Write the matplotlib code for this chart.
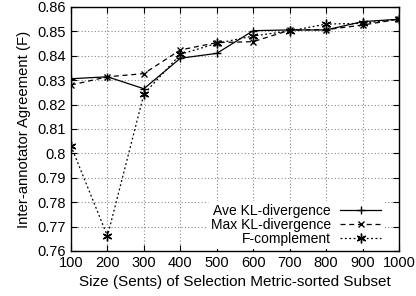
import matplotlib
matplotlib.use("Agg")
import matplotlib.pyplot as plt

plt.rcParams['font.family'] = ['Liberation Sans', 'DejaVu Sans']
plt.rcParams['font.size'] = 10

sizes = [100, 200, 300, 400, 500, 600, 700, 800, 900, 1000]
ave_kl = [0.8306, 0.8314, 0.8265, 0.8390, 0.8410, 0.8503, 0.8506, 0.8506, 0.8540, 0.8550]
max_kl = [0.8280, 0.8314, 0.8327, 0.8424, 0.8454, 0.8458, 0.8505, 0.8507, 0.8526, 0.8550]
f_comp = [0.8030, 0.7661, 0.8243, 0.8406, 0.8451, 0.8481, 0.8502, 0.8530, 0.8533, 0.8550]

fig = plt.figure(figsize=(4.16, 2.96), dpi=100)
ax = fig.add_axes([71 / 416, 1 - 251 / 296, 328 / 416, 244 / 296])

ax.plot(sizes, ave_kl, color='black', linestyle='-', linewidth=0.9,
        marker='+', markersize=6, label='Ave KL-divergence')
ax.plot(sizes, max_kl, color='black', linestyle=(0, (4, 3)), linewidth=0.9,
        marker='x', markersize=5, label='Max KL-divergence')
ax.plot(sizes, f_comp, color='black', linestyle=(0, (1.5, 2)), linewidth=0.9,
        marker=(6, 2, 0), markersize=7, label='F-complement')

ax.set_xlim(100, 1000)
ax.set_ylim(0.76, 0.86)
ax.set_xticks(sizes)
ax.set_yticks([0.76, 0.77, 0.78, 0.79, 0.80, 0.81, 0.82, 0.83, 0.84, 0.85, 0.86])
ax.set_yticklabels(['0.76', '0.77', '0.78', '0.79', '0.8', '0.81', '0.82',
                    '0.83', '0.84', '0.85', '0.86'])
ax.tick_params(direction='in', top=True, right=True, length=4, width=0.8, labelsize=10.5)
ax.grid(True, color='#888888', linestyle=(0, (1, 2)), linewidth=0.8)
for s in ax.spines.values():
    s.set_linewidth(1.0)

ax.set_xlabel('Size (Sents) of Selection Metric-sorted Subset', fontsize=11, labelpad=4)
ax.set_ylabel('Inter-annotator Agreement (F)', fontsize=10.7, labelpad=5)

# legend sits low in the bottom-right corner, text right-aligned before the samples
leg = ax.legend(loc='lower right', bbox_to_anchor=(0.955, 0.01), frameon=True,
                framealpha=1, edgecolor='white', markerfirst=False,
                handlelength=3.0, handletextpad=0.65, borderpad=0.2,
                labelspacing=0.0, fontsize=10, borderaxespad=0.0)
leg.get_frame().set_linewidth(0)
for t in leg.get_texts():
    t.set_ha('right')

fig.savefig('out.png', dpi=100)
